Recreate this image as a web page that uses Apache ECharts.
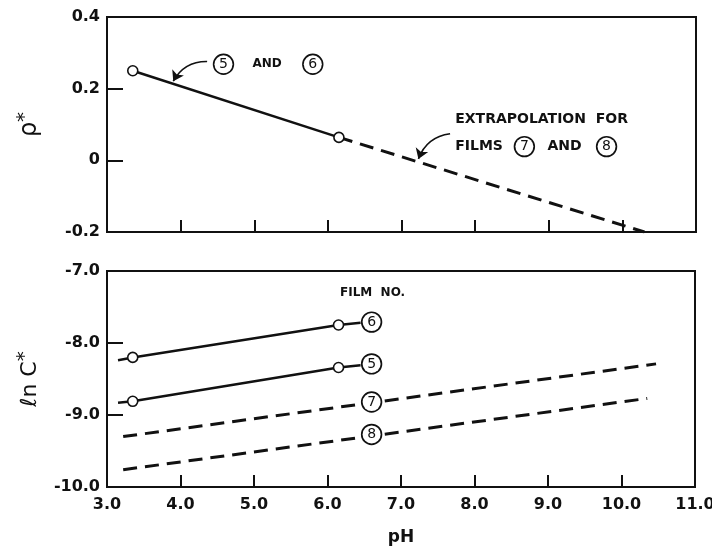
<!DOCTYPE html>
<html>
<head>
<meta charset="utf-8">
<script src="https://cdn.jsdelivr.net/npm/echarts@6/dist/echarts.min.js"></script>
<style>
  html, body { margin: 0; padding: 0; background: #fff; }
  #chart { width: 712px; height: 555px; }
</style>
</head>
<body>
<div id="chart"></div>
<script>
// pH axis ticks
var phTicks = [3, 4, 5, 6, 7, 8, 9, 10, 11];

// top panel: rho* measured for films 5 and 6, then extrapolation
var rhoPH = [3.35, 6.15];
var rhoVal = [0.25, 0.064];
var rhoExtPH = [6.15, 10.3];
var rhoExtVal = [0.064, -0.2];

// bottom panel: ln C* per film
var film6PH = [3.15, 3.35, 6.15, 6.45];
var film6Val = [-8.24, -8.20, -7.75, -7.72];
var film5PH = [3.15, 3.35, 6.15, 6.45];
var film5Val = [-8.83, -8.81, -8.34, -8.31];
var film7PH = [3.22, 10.47];
var film7Val = [-9.30, -8.29];
var film8PH = [3.22, 10.35];
var film8Val = [-9.76, -8.77];
var measuredPH = [3.35, 6.15];
var film6Meas = [-8.20, -7.75];
var film5Meas = [-8.81, -8.34];

// film number tags (circled) along the lines
var tagNames = ['6', '5', '7', '8'];
var tagPH = [6.6, 6.6, 6.6, 6.6];
var tagVal = [-7.71, -8.29, -8.82, -9.27];

function zip(xs, ys) {
    return xs.map(function (x, i) { return [x, ys[i]]; });
}

var FONT = 'DejaVu Sans';
var INK = '#111';
var circ = {
    width: 18, height: 18, lineHeight: 18, borderRadius: 10,
    borderColor: INK, borderWidth: 1.7, backgroundColor: '#fff',
    align: 'center', fontSize: 14, fontFamily: FONT, color: INK
};
var capText = { fontSize: 12, fontWeight: 'bold', fontFamily: FONT, color: INK };

var axisLabelStyle = { color: INK, fontSize: 16, fontFamily: FONT, fontWeight: 'bold' };

var myChart = echarts.init(document.getElementById('chart'));

myChart.setOption({
    animation: false,
    grid: [
        { left: 107, top: 17, width: 589, height: 215, show: true, borderColor: INK, borderWidth: 2, outerBoundsMode: 'none' },
        { left: 107, top: 271, width: 588, height: 216, show: true, borderColor: INK, borderWidth: 2, outerBoundsMode: 'none' }
    ],
    xAxis: [
        {
            gridIndex: 0, type: 'value', min: 3, max: 11, interval: 1,
            axisLine: { show: true, onZero: false, lineStyle: { color: INK, width: 2 } },
            axisTick: { inside: true, length: 12, lineStyle: { color: INK, width: 2 } },
            axisLabel: { show: false },
            splitLine: { show: false }
        },
        {
            gridIndex: 1, type: 'value', min: 3, max: 11, interval: 1,
            name: 'pH', nameLocation: 'middle', nameGap: 42,
            nameTextStyle: { color: INK, fontSize: 17, fontFamily: FONT, fontWeight: 'bold' },
            axisLine: { show: true, onZero: false, lineStyle: { color: INK, width: 2 } },
            axisTick: { inside: true, length: 12, lineStyle: { color: INK, width: 2 } },
            axisLabel: Object.assign({ margin: 10, formatter: function (v) { return v.toFixed(1); } }, axisLabelStyle),
            splitLine: { show: false }
        }
    ],
    yAxis: [
        {
            gridIndex: 0, type: 'value', min: -0.2, max: 0.4, interval: 0.2,
            name: '{a|ρ}{s|*}', nameLocation: 'middle', nameGap: 62, nameRotate: 90,
            nameTextStyle: {
                rich: {
                    a: { fontSize: 24, fontFamily: FONT, color: INK },
                    s: { fontSize: 20, fontFamily: FONT, color: INK, padding: [0, 0, 10, 0] }
                }
            },
            axisLine: { show: true, onZero: false, lineStyle: { color: INK, width: 2 } },
            axisTick: { inside: true, length: 16, lineStyle: { color: INK, width: 2 } },
            axisLabel: Object.assign({ margin: 7, formatter: function (v) {
                if (Math.abs(v) < 1e-9) return '0';
                return v.toFixed(1);
            } }, axisLabelStyle),
            splitLine: { show: false }
        },
        {
            gridIndex: 1, type: 'value', min: -10, max: -7, interval: 1,
            name: '{a|ℓn C}{s|*}', nameLocation: 'middle', nameGap: 62, nameRotate: 90,
            nameTextStyle: {
                rich: {
                    a: { fontSize: 22, fontFamily: FONT, color: INK },
                    s: { fontSize: 20, fontFamily: FONT, color: INK, padding: [0, 0, 10, 0] }
                }
            },
            axisLine: { show: true, onZero: false, lineStyle: { color: INK, width: 2 } },
            axisTick: { inside: true, length: 16, lineStyle: { color: INK, width: 2 } },
            axisLabel: Object.assign({ margin: 7, formatter: function (v) { return v.toFixed(1); } }, axisLabelStyle),
            splitLine: { show: false }
        }
    ],
    series: [
        // ---- top panel
        {
            type: 'line', xAxisIndex: 0, yAxisIndex: 0,
            data: zip(rhoExtPH, rhoExtVal), symbol: 'none',
            lineStyle: { color: INK, width: 3, type: [14, 8] }
        },
        {
            type: 'line', xAxisIndex: 0, yAxisIndex: 0,
            data: zip(rhoPH, rhoVal), symbol: 'circle', symbolSize: 10,
            itemStyle: { color: '#fff', borderColor: INK, borderWidth: 1.6 },
            lineStyle: { color: INK, width: 2.5 }, z: 3
        },
        {
            type: 'lines', coordinateSystem: 'cartesian2d', xAxisIndex: 0, yAxisIndex: 0,
            symbol: ['none', 'arrow'], symbolSize: 10,
            lineStyle: { color: INK, width: 1.6, curveness: -0.3, opacity: 1 },
            data: [
                { coords: [[4.36, 0.276], [3.9, 0.221]] },
                { coords: [[7.66, 0.074], [7.23, 0.004]] }
            ]
        },
        {
            type: 'scatter', xAxisIndex: 0, yAxisIndex: 0, symbolSize: 0,
            itemStyle: { opacity: 1 },
            data: [[4.46, 0.268]],
            label: {
                show: true, position: 'right', distance: 0,
                formatter: '{c|5}{t|AND}{c|6}',
                rich: { c: circ, t: Object.assign({}, capText, { lineHeight: 18, height: 18, padding: [0, 22, 0, 20] }) }
            }
        },
        {
            type: 'scatter', xAxisIndex: 0, yAxisIndex: 0, symbolSize: 0,
            itemStyle: { opacity: 1 },
            data: [[7.73, 0.076]],
            label: {
                show: true, position: 'right', distance: 0, align: 'left',
                formatter: '{t|EXTRAPOLATION  FOR}\n{t|FILMS}{c|7}{u|AND}{c|8}',
                lineHeight: 27,
                rich: {
                    c: Object.assign({}, circ, { lineHeight: 27 }),
                    t: Object.assign({}, capText, { fontSize: 14, lineHeight: 27 }),
                    u: Object.assign({}, capText, { fontSize: 14, lineHeight: 27, padding: [0, 16, 0, 14] })
                }
            }
        },
        // ---- bottom panel
        {
            type: 'line', xAxisIndex: 1, yAxisIndex: 1, symbol: 'none',
            data: zip(film6PH, film6Val), lineStyle: { color: INK, width: 2.5 }
        },
        {
            type: 'line', xAxisIndex: 1, yAxisIndex: 1, symbol: 'none',
            data: zip(film5PH, film5Val), lineStyle: { color: INK, width: 2.5 }
        },
        {
            type: 'line', xAxisIndex: 1, yAxisIndex: 1, symbol: 'none',
            data: zip(film7PH, film7Val), lineStyle: { color: INK, width: 3, type: [14, 8] }
        },
        {
            type: 'line', xAxisIndex: 1, yAxisIndex: 1, symbol: 'none',
            data: zip(film8PH, film8Val), lineStyle: { color: INK, width: 3, type: [14, 8] }
        },
        {
            type: 'scatter', xAxisIndex: 1, yAxisIndex: 1, symbol: 'circle', symbolSize: 10,
            itemStyle: { color: '#fff', borderColor: INK, borderWidth: 1.6, opacity: 1 },
            data: zip(measuredPH, film6Meas).concat(zip(measuredPH, film5Meas)), z: 3
        },
        {
            type: 'scatter', xAxisIndex: 1, yAxisIndex: 1, symbolSize: 0, z: 4,
            itemStyle: { opacity: 1 },
            data: tagPH.map(function (x, i) { return { value: [x, tagVal[i]], name: tagNames[i] }; }),
            label: {
                show: true, position: 'inside',
                formatter: function (p) { return '{c|' + p.name + '}'; },
                rich: { c: circ }
            }
        },
        {
            type: 'scatter', xAxisIndex: 1, yAxisIndex: 1, symbolSize: 0,
            itemStyle: { opacity: 1 },
            data: [[6.17, -7.31]],
            label: {
                show: true, position: 'right', distance: 0,
                formatter: '{t|FILM  NO.}',
                rich: { t: Object.assign({}, capText, { fontSize: 12 }) }
            }
        }
    ]
});
</script>
</body>
</html>
